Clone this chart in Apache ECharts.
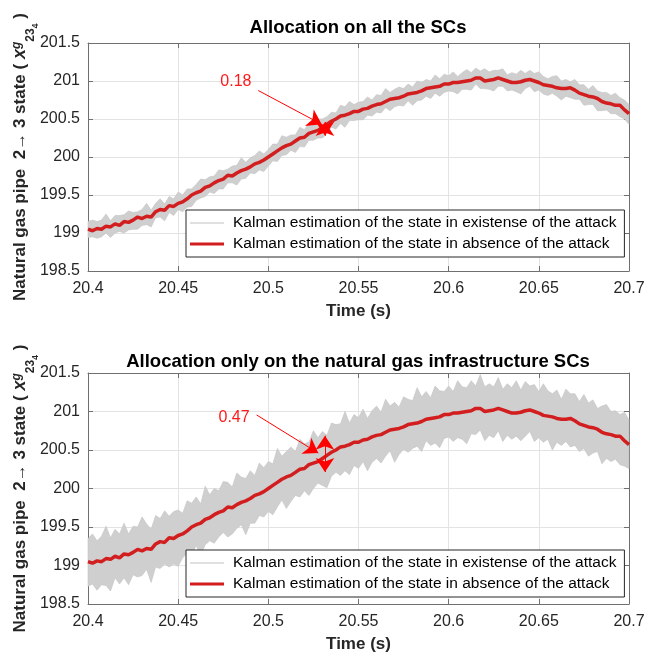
<!DOCTYPE html>
<html>
<head>
<meta charset="utf-8">
<script src="https://cdn.jsdelivr.net/npm/echarts@6/dist/echarts.min.js"></script>
<style>
  html, body { margin: 0; padding: 0; background: #ffffff; }
  #chart { width: 647px; height: 656px; }
</style>
</head>
<body>
<div id="chart"></div>
<script>
// Estimated state of pipe 2->3 over 20.4..20.7 s, sampled every 2.5 ms.
const redTrace = [
  199.05, 199.03, 199.06, 199.05, 199.09, 199.08, 199.12, 199.10, 199.15, 199.14,
  199.17, 199.21, 199.19, 199.22, 199.21, 199.28, 199.31, 199.30, 199.36, 199.35,
  199.39, 199.41, 199.45, 199.50, 199.53, 199.55, 199.60, 199.62, 199.66, 199.69,
  199.71, 199.76, 199.75, 199.79, 199.82, 199.84, 199.87, 199.91, 199.93, 199.96,
  200.00, 200.04, 200.08, 200.12, 200.15, 200.17, 200.21, 200.25, 200.26, 200.31,
  200.33, 200.35, 200.39, 200.43, 200.47, 200.50, 200.54, 200.55, 200.57, 200.60,
  200.60, 200.63, 200.64, 200.67, 200.69, 200.70, 200.73, 200.76, 200.77, 200.78,
  200.80, 200.83, 200.84, 200.85, 200.87, 200.90, 200.91, 200.92, 200.93, 200.96,
  200.96, 200.98, 200.98, 200.99, 201.00, 201.01, 201.04, 201.04, 201.00, 201.01,
  201.02, 201.04, 201.02, 201.00, 200.98, 200.98, 200.99, 201.01, 201.02, 201.00,
  200.98, 200.95, 200.94, 200.93, 200.91, 200.90, 200.90, 200.91, 200.88, 200.84,
  200.82, 200.80, 200.79, 200.77, 200.73, 200.71, 200.70, 200.68, 200.68, 200.62,
  200.57
];

// Spread of the attacked estimates above / below the clean trace (all SCs protected).
const spreadUpAll = [
  0.10, 0.14, 0.09, 0.12, 0.16, 0.08, 0.11, 0.13, 0.09, 0.15,
  0.10, 0.07, 0.12, 0.17, 0.09, 0.11, 0.14, 0.08, 0.12, 0.10,
  0.15, 0.09, 0.13, 0.08, 0.11, 0.16, 0.10, 0.12, 0.09, 0.14,
  0.11, 0.08, 0.13, 0.10, 0.17, 0.09, 0.12, 0.11, 0.15, 0.08,
  0.10, 0.13, 0.09, 0.16, 0.11, 0.12, 0.08, 0.14, 0.10, 0.13,
  0.09, 0.15, 0.11, 0.10, 0.12, 0.08, 0.14, 0.11, 0.16, 0.09,
  0.12, 0.10, 0.15, 0.08, 0.13, 0.11, 0.17, 0.09, 0.12, 0.14,
  0.10, 0.13, 0.08, 0.15, 0.11, 0.12, 0.09, 0.16, 0.10, 0.13,
  0.11, 0.14, 0.08, 0.12, 0.15, 0.10, 0.13, 0.09, 0.16, 0.11,
  0.12, 0.10, 0.14, 0.08, 0.13, 0.11, 0.15, 0.09, 0.12, 0.10,
  0.14, 0.11, 0.09, 0.13, 0.16, 0.10, 0.12, 0.08, 0.14, 0.11,
  0.13, 0.09, 0.15, 0.10, 0.12, 0.14, 0.11, 0.16, 0.10, 0.13,
  0.12
];
const spreadDownAll = [
  0.11, 0.08, 0.13, 0.10, 0.09, 0.14, 0.12, 0.08, 0.15, 0.10,
  0.12, 0.16, 0.09, 0.11, 0.13, 0.08, 0.10, 0.14, 0.09, 0.12,
  0.08, 0.13, 0.11, 0.15, 0.10, 0.09, 0.12, 0.08, 0.14, 0.11,
  0.13, 0.10, 0.09, 0.16, 0.11, 0.12, 0.08, 0.13, 0.10, 0.15,
  0.12, 0.09, 0.14, 0.10, 0.12, 0.08, 0.15, 0.11, 0.13, 0.09,
  0.11, 0.10, 0.14, 0.12, 0.08, 0.13, 0.10, 0.16, 0.09, 0.12,
  0.11, 0.14, 0.09, 0.13, 0.10, 0.12, 0.08, 0.15, 0.11, 0.10,
  0.13, 0.09, 0.16, 0.11, 0.12, 0.10, 0.14, 0.08, 0.13, 0.11,
  0.09, 0.12, 0.15, 0.10, 0.11, 0.13, 0.08, 0.14, 0.10, 0.12,
  0.15, 0.11, 0.09, 0.13, 0.10, 0.12, 0.16, 0.11, 0.09, 0.14,
  0.10, 0.12, 0.13, 0.09, 0.11, 0.15, 0.10, 0.13, 0.12, 0.08,
  0.14, 0.11, 0.10, 0.16, 0.12, 0.09, 0.13, 0.11, 0.15, 0.12,
  0.14
];

// Spread when only the natural gas infrastructure SCs are protected.
const spreadUpGas = [
  0.30, 0.38, 0.26, 0.33, 0.42, 0.28, 0.35, 0.31, 0.40, 0.27,
  0.34, 0.29, 0.44, 0.32, 0.26, 0.37, 0.30, 0.41, 0.28, 0.35,
  0.33, 0.27, 0.39, 0.31, 0.36, 0.25, 0.43, 0.30, 0.34, 0.28,
  0.38, 0.32, 0.27, 0.41, 0.33, 0.29, 0.36, 0.26, 0.40, 0.31,
  0.35, 0.28, 0.44, 0.30, 0.33, 0.37, 0.27, 0.39, 0.32, 0.29,
  0.42, 0.31, 0.35, 0.26, 0.38, 0.33, 0.30, 0.45, 0.28, 0.36,
  0.32, 0.40, 0.27, 0.34, 0.38, 0.29, 0.43, 0.31, 0.35, 0.28,
  0.39, 0.33, 0.30, 0.46, 0.32, 0.36, 0.27, 0.41, 0.34, 0.30,
  0.37, 0.28, 0.42, 0.33, 0.31, 0.39, 0.29, 0.44, 0.32, 0.35,
  0.30, 0.40, 0.27, 0.36, 0.33, 0.42, 0.29, 0.38, 0.31, 0.35,
  0.28, 0.41, 0.33, 0.30, 0.37, 0.26, 0.39, 0.32, 0.35, 0.29,
  0.40, 0.31, 0.36, 0.27, 0.34, 0.38, 0.30, 0.33, 0.28, 0.37,
  0.32
];
const spreadDownGas = [
  0.32, 0.27, 0.38, 0.30, 0.35, 0.41, 0.28, 0.34, 0.31, 0.39,
  0.29, 0.36, 0.32, 0.27, 0.43, 0.30, 0.35, 0.28, 0.38, 0.33,
  0.40, 0.31, 0.29, 0.36, 0.27, 0.42, 0.33, 0.30, 0.37, 0.32,
  0.28, 0.39, 0.34, 0.31, 0.29, 0.44, 0.32, 0.36, 0.28, 0.33,
  0.30, 0.38, 0.32, 0.27, 0.41, 0.34, 0.30, 0.36, 0.29, 0.40,
  0.33, 0.28, 0.35, 0.42, 0.31, 0.29, 0.37, 0.32, 0.39, 0.30,
  0.34, 0.28, 0.41, 0.33, 0.30, 0.37, 0.31, 0.27, 0.43, 0.34,
  0.29, 0.36, 0.32, 0.30, 0.39, 0.28, 0.35, 0.33, 0.40, 0.31,
  0.29, 0.37, 0.32, 0.35, 0.42, 0.30, 0.34, 0.28, 0.38, 0.32,
  0.36, 0.29, 0.41, 0.31, 0.34, 0.30, 0.37, 0.33, 0.28, 0.39,
  0.32, 0.35, 0.30, 0.43, 0.31, 0.34, 0.29, 0.37, 0.32, 0.36,
  0.30, 0.38, 0.33, 0.29, 0.41, 0.32, 0.35, 0.30, 0.37, 0.33,
  0.31
];

// Sampling instants (s)
const time = redTrace.map((_, i) => Math.round((20.4 + i * 0.0025) * 10000) / 10000);

const panelTitles = [
  'Allocation on all the SCs',
  'Allocation only on the natural gas infrastructure SCs'
];
const legendNames = [
  'Kalman estimation of the state in existense of the attack',
  'Kalman estimation of the state in absence of the attack'
];
const xName = 'Time (s)';

// Deviation annotations: measured gap (low..high at time t), pointer arrow and its label.
const deviations = [
  { text: '0.18', t: 20.5314, low: 200.28, high: 200.46,
    tail: [20.4944, 200.875], tip: [20.5296, 200.43], at: [20.482, 200.99] },
  { text: '0.47', t: 20.5314, low: 200.215, high: 200.685,
    tail: [20.4935, 200.955], tip: [20.5277, 200.46], at: [20.481, 200.92] }
];

const FONT = '"Liberation Sans", Arial, Helvetica, sans-serif';
const TXT = '#262626';
const AXIS = '#6f6f6f';
const GRID = '#e3e3e3';
const BAND = '#cfcfcf';
const BAND_EDGE = '#c2c2c2';
const RED = '#d21e1e';

const grids = [
  { left: 88, top: 43, width: 541, height: 228, outerBoundsMode: 'none', containLabel: false },
  { left: 88, top: 373, width: 541, height: 231, outerBoundsMode: 'none', containLabel: false }
];

const yName = '{m|Natural gas pipe  2\u2192 3 state ( }{x|x}{sup|g}{sub|23}{ss|4}{m| )}';
const yRich = {
  m: { fontFamily: FONT, fontSize: 17, fontWeight: 'bold', color: TXT, lineHeight: 40, verticalAlign: 'middle' },
  x: { fontFamily: FONT, fontSize: 18, fontWeight: 'bold', fontStyle: 'italic', color: TXT, verticalAlign: 'middle' },
  sup: { fontFamily: FONT, fontSize: 12, fontWeight: 'bold', fontStyle: 'italic', color: TXT, verticalAlign: 'middle', padding: [0, 0, 6, 0] },
  sub: { fontFamily: FONT, fontSize: 12, fontWeight: 'bold', color: TXT, verticalAlign: 'bottom', padding: [0, 0, 3, 0] },
  ss: { fontFamily: FONT, fontSize: 9, fontWeight: 'bold', color: TXT, verticalAlign: 'bottom' }
};

function xAxes(gi) {
  return [
    {
      type: 'value', gridIndex: gi, position: 'bottom', min: 20.4, max: 20.7, interval: 0.05,
      name: xName, nameLocation: 'middle', nameGap: 32, nameMoveOverlap: false,
      nameTextStyle: { fontFamily: FONT, fontSize: 17, fontWeight: 'bold', color: TXT },
      axisLine: { show: true, onZero: false, lineStyle: { color: AXIS, width: 1 } },
      axisTick: { show: true, inside: true, length: 5, lineStyle: { color: AXIS } },
      axisLabel: { fontFamily: FONT, fontSize: 16, color: TXT, margin: 10,
        formatter: v => String(Math.round(v * 100) / 100) },
      splitLine: { show: true, lineStyle: { color: GRID, width: 1 } }
    },
    {
      type: 'value', gridIndex: gi, position: 'top', min: 20.4, max: 20.7, interval: 0.05,
      axisLine: { show: true, onZero: false, lineStyle: { color: AXIS, width: 1 } },
      axisTick: { show: true, inside: true, length: 5, lineStyle: { color: AXIS } },
      axisLabel: { show: false }, splitLine: { show: false }
    }
  ];
}

function yAxes(gi) {
  return [
    {
      type: 'value', gridIndex: gi, position: 'left', min: 198.5, max: 201.5, interval: 0.5,
      name: yName, nameLocation: 'middle', nameRotate: 90, nameGap: 48, nameMoveOverlap: false,
      nameTextStyle: { rich: yRich },
      axisLine: { show: true, onZero: false, lineStyle: { color: AXIS, width: 1 } },
      axisTick: { show: true, inside: true, length: 5, lineStyle: { color: AXIS } },
      axisLabel: { fontFamily: FONT, fontSize: 16, color: TXT, margin: 8 },
      splitLine: { show: true, lineStyle: { color: GRID, width: 1 } }
    },
    {
      type: 'value', gridIndex: gi, position: 'right', min: 198.5, max: 201.5, interval: 0.5,
      axisLine: { show: true, onZero: false, lineStyle: { color: AXIS, width: 1 } },
      axisTick: { show: true, inside: true, length: 5, lineStyle: { color: AXIS } },
      axisLabel: { show: false }, splitLine: { show: false }
    }
  ];
}

function panelSeries(gi, up, down, dev) {
  const xi = gi * 2, yi = gi * 2;
  // each row: time, lowest attacked estimate, highest attacked estimate
  const band = time.map((t, i) => [t, redTrace[i] - down[i], redTrace[i] + up[i]]);
  const clean = time.map((t, i) => [t, redTrace[i]]);
  return [
    {
      name: legendNames[0], type: 'custom', xAxisIndex: xi, yAxisIndex: yi,
      data: band, silent: true, z: 2,
      encode: { x: 0, y: [1, 2] },
      itemStyle: { color: BAND_EDGE },
      renderItem: (params, api) => {
        if (params.dataIndex !== 0) return null;
        const top = [], bottom = [];
        for (let i = 0; i < band.length; i++) {
          top.push(api.coord([band[i][0], band[i][2]]));
          bottom.push(api.coord([band[i][0], band[i][1]]));
        }
        return {
          type: 'polygon',
          shape: { points: top.concat(bottom.reverse()) },
          style: { fill: BAND, stroke: BAND_EDGE, lineWidth: 0.6 }
        };
      }
    },
    {
      name: legendNames[1], type: 'line', xAxisIndex: xi, yAxisIndex: yi,
      data: clean, symbol: 'none', silent: true,
      lineStyle: { color: RED, width: 3.5 }, itemStyle: { color: RED }, z: 3,
      markLine: {
        silent: true, animation: false,
        label: { show: false },
        lineStyle: { color: '#ff0000', width: 1, type: 'solid' },
        symbolSize: 14,
        data: [
          [
            { coord: dev.tail, symbol: 'none' },
            { coord: dev.tip, symbol: 'arrow' }
          ],
          [
            { coord: [dev.t, dev.low], symbol: 'arrow' },
            { coord: [dev.t, dev.high], symbol: 'arrow' }
          ]
        ]
      },
      markPoint: {
        silent: true, animation: false,
        symbol: 'circle', symbolSize: 1,
        itemStyle: { color: 'rgba(0,0,0,0)' },
        label: { show: true, position: 'inside', color: '#ff1a1a',
          fontFamily: FONT, fontSize: 16, formatter: dev.text },
        data: [{ coord: dev.at }]
      }
    }
  ];
}

function legendFor(top) {
  return {
    orient: 'vertical', left: 186, top: top,
    itemWidth: 34, itemHeight: 12, itemGap: 5,
    padding: [5, 8, 5, 4],
    backgroundColor: '#ffffff', borderColor: '#262626', borderWidth: 1,
    textStyle: { fontFamily: FONT, fontSize: 15.5, color: '#000000', padding: [0, 0, 0, 4] },
    selectedMode: false,
    data: [
      { name: legendNames[0], icon: 'path://M0 0H40V1.2H0Z', itemStyle: { color: BAND_EDGE } },
      { name: legendNames[1], icon: 'path://M0 0H40V3.6H0Z', itemStyle: { color: RED } }
    ]
  };
}

const chart = echarts.init(document.getElementById('chart'), null, { renderer: 'canvas' });
chart.setOption({
  animation: false,
  backgroundColor: '#ffffff',
  title: [
    { text: panelTitles[0], left: 358, top: 18, textAlign: 'center', padding: 0,
      textStyle: { fontFamily: FONT, fontSize: 18.5, fontWeight: 'bold', color: '#000000' } },
    { text: panelTitles[1], left: 358, top: 352, textAlign: 'center', padding: 0,
      textStyle: { fontFamily: FONT, fontSize: 18.5, fontWeight: 'bold', color: '#000000' } }
  ],
  legend: [legendFor(210), legendFor(550)],
  grid: grids,
  xAxis: [...xAxes(0), ...xAxes(1)],
  yAxis: [...yAxes(0), ...yAxes(1)],
  series: [
    ...panelSeries(0, spreadUpAll, spreadDownAll, deviations[0]),
    ...panelSeries(1, spreadUpGas, spreadDownGas, deviations[1])
  ]
});
</script>
</body>
</html>
